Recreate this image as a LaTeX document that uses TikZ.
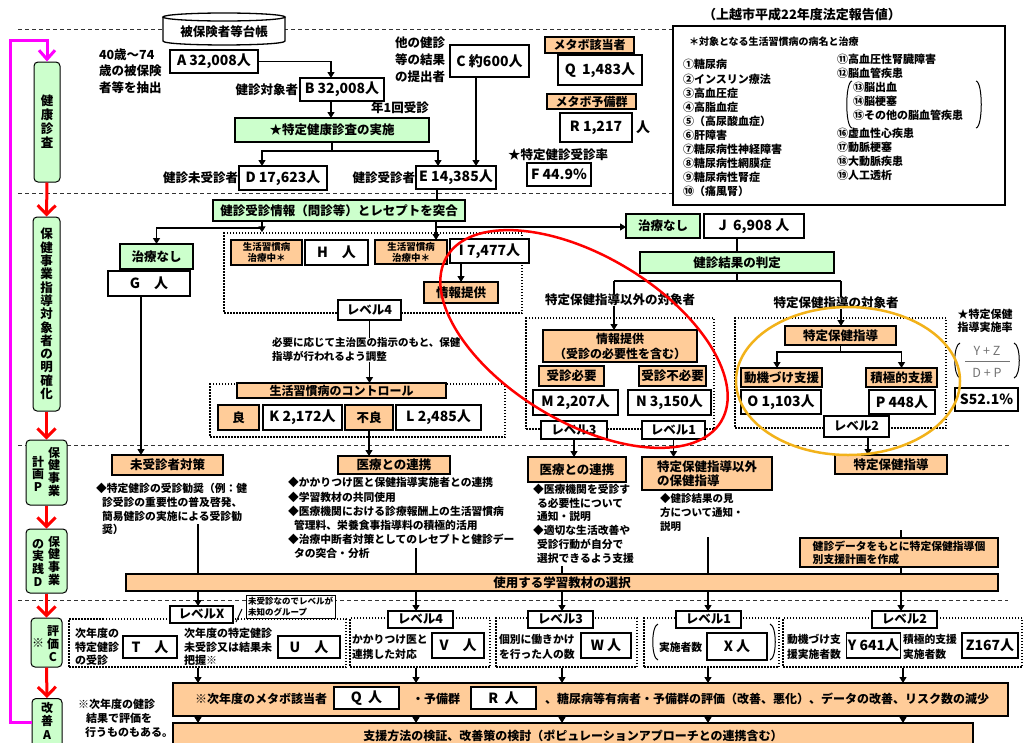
\documentclass[tikz,border=0pt]{standalone}
\usepackage{fontspec}
\setmainfont{Noto Sans CJK JP}
\usetikzlibrary{arrows.meta}

\definecolor{grn}{RGB}{204,255,204}
\definecolor{org}{RGB}{255,204,153}
\definecolor{mag}{RGB}{255,0,255}
\definecolor{gold}{RGB}{242,178,26}

\newcommand{\fbig}{\fontsize{14}{16}\selectfont}
\newcommand{\fmid}{\fontsize{12.5}{14.5}\selectfont}
\newcommand{\fsml}{\fontsize{10.8}{13.8}\selectfont}
\newcommand{\ftiny}{\fontsize{9.5}{11}\selectfont}

\tikzset{
  wbox/.style={draw, line width=1.2pt, fill=white, inner sep=1pt, outer sep=0pt, align=center, font=\bfseries\fbig},
  gbox/.style={wbox, fill=grn, font=\bfseries\fmid},
  obox/.style={wbox, fill=org, font=\bfseries\fmid},
  lvbox/.style={wbox, font=\bfseries\fmid},
  tlbl/.style={inner sep=0pt, outer sep=0pt, align=left, font=\bfseries\fmid},
  dotbox/.style={draw, line width=1.5pt, dash pattern=on 1.5pt off 1.5pt},
  stagebox/.style={draw, line width=1pt, fill=grn, rounded corners=4pt, inner sep=0pt, align=center, font=\bfseries\fontsize{12.5}{14}\selectfont},
  sepline/.style={draw=black!80, line width=0.9pt, dash pattern=on 4pt off 3pt},
  ln/.style={line width=1.3pt},
  arr/.style={line width=1.3pt, -{Triangle[length=6pt,width=7pt]}},
  redarr/.style={draw=red, line width=3pt, -{Straight Barb[length=9pt,width=18pt]}},
  magarr/.style={draw=mag, line width=3pt, -{Straight Barb[length=9pt,width=16pt]}},
}

\begin{document}
\begin{tikzpicture}[x=1pt, y=-1pt]
\useasboundingbox (0,0) rectangle (1024,742);
\fill[white] (0,0) rectangle (1024,742);
\clip (0,0) rectangle (1024,742);

% separators
\draw[sepline] (18,29) -- (673,29);
\draw[sepline] (18,193) -- (673,193);
\draw[sepline] (18,445) -- (1010,445);
\draw[sepline] (18,600) -- (1008,600);

% health check
\draw[ln, fill=white] (163,17) -- (163,41) .. controls (163,46.3) and (285,46.3) .. (285,41) -- (285,17);
\draw[ln, fill=white] (224,17) ellipse [x radius=61, y radius=4];
\node[tlbl] (daicho) at (224,32) {被保険者等台帳};
\node[tlbl, anchor=north west, font=\bfseries\fontsize{12.5}{16.5}\selectfont] (chushutsu) at (99,48.5) {40歳～74\\歳の被保険\\者等を抽出};
\node[wbox, minimum width=88, minimum height=23] (A) at (214,61.5) {A 32,008人};
\node[wbox, minimum width=84, minimum height=23] (B) at (342,89.5) {B 32,008人};
\node[tlbl, anchor=east] (taisho) at (298,90) {健診対象者};
\node[tlbl] (nen1) at (400,108) {年1回受診};
\node[gbox, minimum width=194, minimum height=24] (jisshi) at (332,130) {★特定健康診査の実施};
\node[wbox, minimum width=88, minimum height=24] (D) at (283,178) {D 17,623人};
\node[tlbl, anchor=east] (mijushin) at (238,178) {健診未受診者};
\node[wbox, minimum width=80, minimum height=23] (E) at (456,177.5) {E 14,385人};
\node[tlbl, anchor=east] (jushin) at (415,178) {健診受診者};
\node[tlbl, anchor=north west, font=\bfseries\fontsize{12.5}{17}\selectfont] (takenshin) at (395,36.5) {他の健診\\等の結果\\の提出者};
\node[wbox, minimum width=79, minimum height=32] (C) at (489.5,61) {C 約600人};

\draw[arr] (A.east) -| ([xshift=-11]B.north);
\draw[arr] ([xshift=-11]B.south) -- ([xshift=-11]B.south |- jisshi.north);
\coordinate (bD) at (332,151);
\draw[ln] (jisshi.south) -- (bD);
\draw[arr] (bD) -| ([xshift=-21]D.north);
\draw[arr] (bD) -| ([xshift=-18]E.north);
\draw[arr] ([xshift=-13.5]C.south) -- ([xshift=-13.5]C.south |- E.north);

\node[obox, minimum width=89, minimum height=16, font=\bfseries\fontsize{12}{14}\selectfont] (metabo) at (589.5,45) {メタボ該当者};
\node[wbox, minimum width=84, minimum height=30] (Q) at (600,70) {Q\ \ 1,483人};
\node[obox, minimum width=89, minimum height=15, font=\bfseries\fontsize{12}{14}\selectfont] (yobi) at (591.5,101.5) {メタボ予備群};
\node[wbox, minimum width=72, minimum height=29] (R) at (596,127.5) {R 1,217};
\node[tlbl, font=\bfseries\fbig] (Rnin) at (643,127.5) {人};
\node[tlbl] (jushinritsu) at (558,155) {★特定健診受診率};
\node[wbox, minimum width=64, minimum height=23] (F) at (559,174.5) {F 44.9\%};

% legend
\node[tlbl, font=\bfseries\fontsize{13}{15}\selectfont] (title) at (802,15) {（上越市平成22年度法定報告値）};
\draw[ln, fill=white] (673,26) rectangle (1005,205);
\node[tlbl, anchor=west, font=\bfseries\fontsize{10}{12}\selectfont] (leghead) at (689,42) {＊対象となる生活習慣病の病名と治療};
\node[tlbl, anchor=north west, font=\bfseries\fontsize{11}{14.1}\selectfont] (leg1) at (683,59.5) {①糖尿病\\②インスリン療法\\③高血圧症\\④高脂血症\\⑤（高尿酸血症）\\⑥肝障害\\⑦糖尿病性神経障害\\⑧糖尿病性網膜症\\⑨糖尿病性腎症\\⑩（痛風腎）};
\node[tlbl, anchor=north west, font=\bfseries\fontsize{11}{14}\selectfont] (leg2) at (837,54.5) {⑪高血圧性腎臓障害\\⑫脳血管疾患};
\node[tlbl, anchor=north west, font=\bfseries\fontsize{11}{14}\selectfont] (leg3) at (853,82.5) {⑬脳出血\\⑭脳梗塞\\⑮その他の脳血管疾患};
\node[tlbl, anchor=north west, font=\bfseries\fontsize{11}{14}\selectfont] (leg4) at (837,128.5) {⑯虚血性心疾患\\⑰動脈梗塞\\⑱大動脈疾患\\⑲人工透析};
\draw[line width=1pt] (852,81) .. controls (845,82) and (845,127) .. (852,128);
\draw[line width=1pt] (976,81) .. controls (983,82) and (983,127) .. (976,128);

% matching with receipts
\node[gbox, minimum width=252, minimum height=21] (totsugo) at (339,210.5) {健診受診情報（問診等）とレセプトを突合};
\draw[ln] ([xshift=-19]E.south) -- ([xshift=-19]E.south |- totsugo.north);
\node[gbox, minimum width=73, minimum height=25] (chiryoL) at (156.5,256.5) {治療なし};
\node[wbox, minimum width=82, minimum height=25] (G) at (149,283.5) {G　人};
\node[dotbox, minimum width=298, minimum height=80] (grp1) at (373,273) {};
\node[obox, minimum width=71, minimum height=25, font=\bfseries\ftiny] (chu1) at (266.5,252.5) {生活習慣病\\治療中＊};
\node[wbox, minimum width=63, minimum height=25] (H) at (336.5,252.5) {H　人};
\node[obox, minimum width=72, minimum height=24, font=\bfseries\ftiny] (chu2) at (411,252) {生活習慣病\\治療中＊};
\node[wbox, minimum width=79, minimum height=24] (I) at (489.5,251) {I 7,477人};
\node[obox, minimum width=74, minimum height=21] (joho1) at (461,292.5) {情報提供};
\node[lvbox, minimum width=63, minimum height=20] (lv4) at (369.5,310) {レベル4};
\node[tlbl, anchor=north west, font=\bfseries\fontsize{10.5}{14}\selectfont] (hitsuyo) at (272,337.5) {必要に応じて主治医の指示のもと、保健\\指導が行われるよう調整};
\node[dotbox, minimum width=295, minimum height=53] (grp2) at (357.5,410.5) {};
\node[obox, minimum width=209, minimum height=15, font=\bfseries\fontsize{12}{14}\selectfont] (control) at (341.5,390.5) {生活習慣病のコントロール};
\node[obox, minimum width=41, minimum height=25] (ryo) at (238.5,417.5) {良};
\node[wbox, minimum width=79, minimum height=25] (K) at (302.5,417.5) {K 2,172人};
\node[obox, minimum width=48, minimum height=25] (furyo) at (369,417.5) {不良};
\node[wbox, minimum width=85, minimum height=25] (L) at (438.5,417.5) {L 2,485人};

% judgement
\node[gbox, minimum width=74, minimum height=24] (chiryoR) at (663,226) {治療なし};
\node[wbox, minimum width=100, minimum height=24] (J) at (754,226) {J\ \ 6,908 人};
\node[gbox, minimum width=194, minimum height=21] (hantei) at (737,262.5) {健診結果の判定};

\coordinate (bG) at (262,228);
\draw[ln] (bG |- totsugo.south) -- (bG);
\draw[arr] (bG) -| (chiryoL.north);
\draw[arr] (bG) -- (bG |- grp1.north);
\coordinate (bN) at (436,227);
\draw[arr] (bN |- totsugo.south) -- (bN |- chu2.north);
\draw[arr] (bN) -- (bN -| chiryoR.west);
\draw[arr] (I.south -| joho1.north) -- (joho1.north);
\draw[ln] (lv4.south) -- (lv4.south |- hitsuyo.north);
\draw[arr] (lv4.south |- hitsuyo.south) -- (lv4.south |- control.north);

\draw[ln] (hantei.north |- J.south) -- (hantei.north);
\coordinate (bH) at (737,281);
\coordinate (bHL) at (614,281);
\coordinate (bHR) at (841,281);
\draw[ln] (hantei.south) -- (bH);
\draw[ln] (bHL) -- (bHR);
\node[tlbl] (igai) at (620,300) {特定保健指導以外の対象者};
\node[tlbl] (taishosha) at (836,303) {特定保健指導の対象者};

\node[dotbox, minimum width=188, minimum height=111] (grp3) at (620,373.5) {};
\node[obox, minimum width=154, minimum height=32, font=\bfseries\fontsize{12}{15}\selectfont] (joho2) at (620,346) {情報提供\\（受診の必要性を含む）};
\node[obox, minimum width=65, minimum height=20] (juhitsu) at (571.5,376) {受診必要};
\node[obox, minimum width=67, minimum height=20] (jufuyo) at (672.5,376) {受診不必要};
\node[wbox, minimum width=85, minimum height=25] (M) at (575.5,402.5) {M 2,207人};
\node[wbox, minimum width=83, minimum height=25] (N) at (669.5,402.5) {N 3,150人};
\node[lvbox, minimum width=66, minimum height=18] (lv3) at (574,430) {レベル3};
\node[lvbox, minimum width=63, minimum height=18] (lv1) at (673.5,430) {レベル1};

\node[dotbox, minimum width=211, minimum height=110] (grp4) at (840.5,373) {};
\node[obox, minimum width=111, minimum height=19] (shido1) at (840.5,335.5) {特定保健指導};
\node[obox, minimum width=81, minimum height=19] (doki) at (781.5,377.5) {動機づけ支援};
\node[obox, minimum width=71, minimum height=19] (sekkyoku) at (901.5,377.5) {積極的支援};
\node[wbox, minimum width=80, minimum height=24] (O) at (781,402) {O 1,103人};
\node[wbox, minimum width=66, minimum height=24] (P) at (902,402) {P 448人};
\node[lvbox, minimum width=65, minimum height=21] (lv2) at (856.5,426.5) {レベル2};

\draw[ln] (bHL) -- (bHL |- igai.north);
\draw[arr] (bHL |- igai.south) -- (bHL |- joho2.north);
\draw[ln] (bHR) -- (bHR |- taishosha.north);
\draw[arr] (bHR |- taishosha.south) -- (bHR |- shido1.north);
\coordinate (bS) at (840.5,352);
\draw[ln] (shido1.south) -- (bS);
\draw[arr] (bS) -| ([xshift=-4.5]doki.north);
\draw[arr] (bS) -| (sekkyoku.north);

\node[tlbl, anchor=north, align=center, font=\bfseries\fontsize{11}{13}\selectfont] (jisshiritsu) at (985,309.5) {★特定保健\\指導実施率};
\node[tlbl, text=black!55, font=\fmid] (YZ) at (987,351) {Y + Z};
\node[tlbl, text=black!55, font=\fmid] (DP) at (987,373) {D + P};
\draw[black!55, line width=1pt] (965,361) -- (1010,361);
\draw[line width=1pt] (960,343) .. controls (953,345) and (953,376) .. (960,378);
\draw[line width=1pt] (1014,343) .. controls (1021,345) and (1021,376) .. (1014,378);
\node[wbox, minimum width=63, minimum height=23] (S) at (986.5,399.5) {S52.1\%};

% plan and practice
\node[obox, minimum width=111, minimum height=20] (mijutaisaku) at (167.5,465) {未受診者対策};
\node[tlbl, anchor=north west, font=\bfseries\fontsize{10.8}{13.7}\selectfont] (mijutxt) at (96,483.5) {◆特定健診の受診勧奨（例：健\\\hspace*{6pt}診受診の重要性の普及啓発、\\\hspace*{6pt}簡易健診の実施による受診勧\\\hspace*{6pt}奨）};
\node[obox, minimum width=112, minimum height=18] (iryo1) at (394,465) {医療との連携};
\node[tlbl, anchor=north west, font=\bfseries\fontsize{10.8}{14.2}\selectfont] (iryo1txt) at (288,477.5) {◆かかりつけ医と保健指導実施者との連携\\◆学習教材の共同使用\\◆医療機関における診療報酬上の生活習慣病\\\hspace*{6pt}管理料、栄養食事指導料の積極的活用\\◆治療中断者対策としてのレセプトと健診デー\\\hspace*{6pt}タの突合・分析};
\node[obox, minimum width=98, minimum height=25] (iryo2) at (577,469.5) {医療との連携};
\node[tlbl, anchor=north west, font=\bfseries\fontsize{10.8}{13.8}\selectfont] (iryo2txt) at (533,484) {◆医療機関を受診す\\\hspace*{4pt}る必要性について\\\hspace*{4pt}通知・説明\\◆適切な生活改善や\\\hspace*{4pt}受診行動が自分で\\\hspace*{4pt}選択できるよう支援};
\node[obox, minimum width=130, minimum height=33, align=left] (igaishido) at (707,473.5) {特定保健指導以外\\の保健指導};
\node[tlbl, anchor=north west, font=\bfseries\fontsize{10.5}{14}\selectfont] (igaitxt) at (660,493.5) {◆健診結果の見\\方について通知・\\説明};
\node[obox, minimum width=112, minimum height=19] (shido2) at (891,464.5) {特定保健指導};
\node[obox, minimum width=872, minimum height=17] (bar) at (562,582.5) {使用する学習教材の選択};

\draw[arr] ([xshift=-8]G.south) -- ([xshift=-8]G.south |- mijutaisaku.north);
\draw[arr] (furyo.south) -- (furyo.south |- iryo1.north);
\draw[arr] (lv3.south) -- (lv3.south |- iryo2.north);
\draw[arr] (lv1.south) -- (lv1.south |- igaishido.north);
\draw[arr] ([xshift=11.5]lv2.south) -- ([xshift=11.5]lv2.south |- shido2.north);

\coordinate (c1) at (198,524);
\coordinate (c2) at (416,548);
\coordinate (c3) at (562,566);
\coordinate (c4) at (708,537);
\coordinate (c5) at (901,530);
\draw[ln] (c1) -- (c1 |- bar.north);
\draw[ln] (c2) -- (c2 |- bar.north);
\draw[ln] (c3) -- (c3 |- bar.north);
\draw[ln] (c4) -- (c4 |- bar.north);
\draw[ln] (c5) -- (c5 |- bar.north);
\node[obox, minimum width=198, minimum height=29, align=left, font=\bfseries\fontsize{10.8}{13}\selectfont] (keikaku) at (899,552.5) {健診データをもとに特定保健指導個\\別支援計画を作成};

% evaluation
\node[dotbox, minimum width=277, minimum height=48] (grpX) at (207.5,643) {};
\node[lvbox, minimum width=63, minimum height=17] (lvX) at (201.5,614.5) {レベルX};
\draw[line width=1pt] (236,622) -- (242,609);
\node[wbox, line width=0.8pt, minimum width=89, minimum height=23, align=left, font=\bfseries\fontsize{8.5}{10.5}\selectfont] (note) at (290.5,606.5) {未受診なのでレベルが\\未知のグループ};
\node[tlbl, anchor=north west, font=\bfseries\fontsize{11}{13.5}\selectfont] (jinendo1) at (75,628.5) {次年度の\\特定健診\\の受診};
\node[wbox, minimum width=54, minimum height=22] (T) at (150,647) {T　人};
\node[tlbl, anchor=north west, font=\bfseries\fontsize{11}{13.5}\selectfont] (jinendo2) at (184,628.5) {次年度の特定健診\\未受診又は結果未\\把握※};
\node[wbox, minimum width=62, minimum height=22] (U) at (309,647) {U　人};

\node[dotbox, minimum width=140, minimum height=49] (grp4b) at (420,642.5) {};
\node[lvbox, minimum width=65, minimum height=17] (lv4b) at (420.5,619.5) {レベル4};
\node[tlbl, anchor=north west, font=\bfseries\fontsize{10.8}{15}\selectfont] (kakari) at (352,634.5) {かかりつけ医と\\連携した対応};
\node[wbox, minimum width=52, minimum height=25] (V) at (458,645.5) {V　人};

\node[dotbox, minimum width=141, minimum height=49] (grp3b) at (566.5,642.5) {};
\node[lvbox, minimum width=65, minimum height=17] (lv3b) at (560.5,619.5) {レベル3};
\node[tlbl, anchor=north west, font=\bfseries\fontsize{10.8}{15}\selectfont] (kobetsu) at (499,634.5) {個別に働きかけ\\を行った人の数};
\node[wbox, minimum width=50, minimum height=25] (W) at (606,645.5) {W 人};

\node[dotbox, minimum width=135, minimum height=49] (grp1b) at (711.5,642.5) {};
\node[lvbox, minimum width=65, minimum height=17] (lv1b) at (708.5,619.5) {レベル1};
\node[tlbl, anchor=west, font=\bfseries\fontsize{10.8}{13}\selectfont] (jisshisha) at (659,647) {実施者数};
\node[wbox, minimum width=60, minimum height=27] (X) at (737,646.5) {X 人};
\draw[line width=1pt] (658,624) .. controls (651,626) and (651,658) .. (658,660);
\draw[line width=1pt] (770,624) .. controls (777,626) and (777,658) .. (770,660);

\node[dotbox, minimum width=239, minimum height=49] (grp2b) at (902.5,642.5) {};
\node[lvbox, minimum width=65, minimum height=17] (lv2b) at (904.5,619.5) {レベル2};
\node[tlbl, anchor=north west, font=\bfseries\fontsize{10.8}{15}\selectfont] (dokijisshi) at (787,634.5) {動機づけ支\\援実施者数};
\node[wbox, minimum width=53, minimum height=25] (Y) at (873.5,645.5) {Y 641人};
\node[tlbl, anchor=north west, font=\bfseries\fontsize{10.8}{15}\selectfont] (sekkyokujisshi) at (903,634.5) {積極的支援\\実施者数};
\node[wbox, minimum width=56, minimum height=25] (Z) at (990,645.5) {Z167人};

\draw[arr] (c1 |- bar.south) -- (c1 |- lvX.north);
\draw[arr] (c2 |- bar.south) -- (c2 |- lv4b.north);
\draw[arr] (c3 |- bar.south) -- (c3 |- lv3b.north);
\draw[arr] (c4 |- bar.south) -- (c4 |- lv1b.north);
\draw[arr] (c5 |- bar.south) -- (c5 |- lv2b.north);

% improvement
\node[obox, minimum width=835, minimum height=33] (kekka) at (590.5,699.5) {};
\node[tlbl, anchor=west, font=\bfseries\fontsize{12}{14}\selectfont] (metabo2) at (195,699) {※次年度のメタボ該当者};
\node[wbox, minimum width=65, minimum height=22] (Q2) at (366.5,698) {Q\ \ 人};
\node[tlbl, anchor=west, font=\bfseries\fontsize{12}{14}\selectfont] (yobi2) at (412,699) {・予備群};
\node[wbox, minimum width=65, minimum height=22] (R2) at (503.5,698) {R\ \ 人};
\node[tlbl, anchor=west, font=\bfseries\fontsize{12}{14}\selectfont] (hyoka) at (545,699) {、糖尿病等有病者・予備群の評価（改善、悪化）、データの改善、リスク数の減少};
\node[obox, anchor=north, minimum width=800, minimum height=26, font=\bfseries\fontsize{12}{14}\selectfont] (kento) at (573,723) {支援方法の検証、改善策の検討（ポピュレーションアプローチとの連携含む）};
\node[tlbl, anchor=north west, font=\bfseries\fontsize{11}{14}\selectfont] (chuki) at (78,699.5) {※次年度の健診\\\hspace*{8pt}結果で評価を\\\hspace*{7pt}行うものもある。};

\draw[arr] (c1 |- grpX.south) -- (c1 |- kekka.north);
\draw[arr] (c2 |- grp4b.south) -- (c2 |- kekka.north);
\draw[arr] (c3 |- grp3b.south) -- (c3 |- kekka.north);
\draw[arr] (c4 |- grp1b.south) -- (c4 |- kekka.north);
\draw[arr] ([xshift=2]c5 |- grp2b.south) -- ([xshift=2]c5 |- kekka.north);
\draw[arr] (c1 |- kekka.south) -- (c1 |- kento.north);
\draw[arr] (c2 |- kekka.south) -- (c2 |- kento.north);
\draw[arr] (c3 |- kekka.south) -- (c3 |- kento.north);
\draw[arr] (c4 |- kekka.south) -- (c4 |- kento.north);
\draw[arr] ([xshift=2]c5 |- kekka.south) -- ([xshift=2]c5 |- kento.north);

% PDCA column
\node[stagebox, minimum width=26, minimum height=120] (kenshin) at (47,122) {健\\康\\診\\査};
\node[stagebox, minimum width=27, minimum height=194, font=\bfseries\fontsize{12.5}{13.3}\selectfont] (meikaku) at (46.5,314) {保\\健\\事\\業\\指\\導\\対\\象\\者\\の\\明\\確\\化};
\node[stagebox, minimum width=41, minimum height=65] (planP) at (46.5,472.5) {};
\node[tlbl, anchor=north, align=center, font=\bfseries\fontsize{12}{12.7}\selectfont] (planP1) at (54,447) {保\\健\\事\\業};
\node[tlbl, anchor=north, align=center, font=\bfseries\fontsize{12}{12.7}\selectfont] (planP2) at (38,456) {計\\画\\P};
\node[stagebox, minimum width=41, minimum height=64] (doD) at (46.5,561) {};
\node[tlbl, anchor=north, align=center, font=\bfseries\fontsize{12}{12.7}\selectfont] (doD1) at (54,536) {保\\健\\事\\業};
\node[tlbl, anchor=north, align=center, font=\bfseries\fontsize{12}{12.7}\selectfont] (doD2) at (38,539) {の\\実\\践\\D};
\node[stagebox, minimum width=31, minimum height=49] (checkC) at (46.5,642.5) {};
\node[tlbl, anchor=north, align=center, font=\bfseries\fontsize{12}{12.7}\selectfont] (checkC1) at (53,626) {評\\価\\C};
\node[tlbl, font=\bfseries\fontsize{12}{12.7}\selectfont] (checkC2) at (38,643) {※};
\node[stagebox, anchor=north, minimum width=30, minimum height=60] (actA) at (47,698) {};
\node[tlbl, anchor=north, align=center, font=\bfseries\fontsize{12}{13.5}\selectfont] (actA1) at (47,702) {改\\善\\A};

\draw[redarr] (kenshin.south) -- (meikaku.north);
\draw[redarr] (meikaku.south) -- (planP.north);
\draw[redarr] (planP.south) -- (doD.north);
\draw[redarr] (doD.south) -- (checkC.north);
\draw[redarr] (checkC.south) -- (actA.north);
\coordinate (m0) at (32,722);
\coordinate (m1) at (10,722);
\coordinate (m2) at (10,40);
\draw[magarr] (m0) -- (m1) -- (m2) -| (kenshin.north);

% highlight rings
\draw[red, line width=2.5pt, rotate around={-31:(584,339)}] (584,339) ellipse [x radius=160, y radius=83];
\draw[gold, line width=2.5pt] (848,381) ellipse [x radius=112, y radius=74];
\end{tikzpicture}
\end{document}
